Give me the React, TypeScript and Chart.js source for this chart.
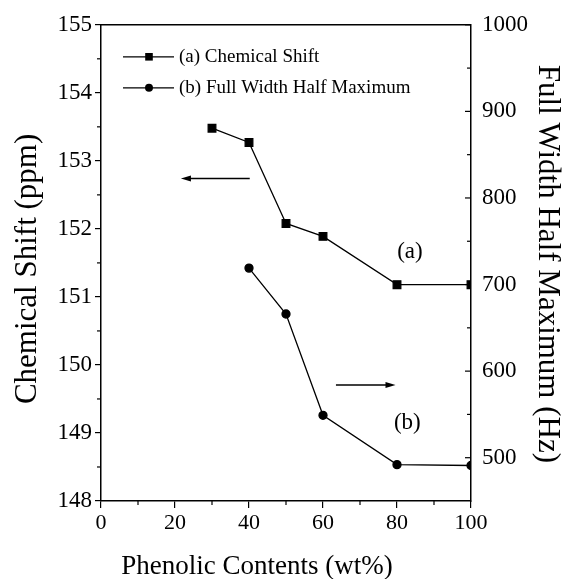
import React, { useEffect, useRef } from 'react';
import { Chart, registerables } from 'chart.js';

Chart.register(...registerables);

// ---- data ----
const PHENOLIC_CS = [30, 40, 50, 60, 80, 100];
const CHEMICAL_SHIFT = [153.48, 153.27, 152.08, 151.89, 151.18, 151.18];
const PHENOLIC_FWHM = [40, 50, 60, 80, 100];
const FWHM = [719, 666, 549, 492, 491];

const X_TICKS = [0, 20, 40, 60, 80, 100];
const X_MINOR = [10, 30, 50, 70, 90];
const LEFT_TICKS = [148, 149, 150, 151, 152, 153, 154, 155];
const LEFT_MINOR = [148.5, 149.5, 150.5, 151.5, 152.5, 153.5, 154.5];
const RIGHT_TICKS = [500, 600, 700, 800, 900, 1000];
const RIGHT_MINOR = [550, 650, 750, 850, 950];

const LEGEND_LABELS = ['(a) Chemical Shift', '(b) Full Width Half Maximum'];
const X_TITLE = 'Phenolic Contents (wt%)';
const LEFT_TITLE = 'Chemical Shift (ppm)';
const RIGHT_TITLE = 'Full Width Half Maximum (Hz)';
const CURVE_LABELS = ['(a)', '(b)'];
// annotation anchors in data coordinates: [x, y]
const LABEL_A_POS = [83.5, 151.66];
const LABEL_B_POS = [82.8, 540];
const ARROW_LEFT = [40.2, 21.6, 152.74]; // from x, to x, at chemical shift
const ARROW_RIGHT = [63.5, 79.6, 584]; // from x, to x, at FWHM

const FONT = "'Liberation Serif', 'Times New Roman', serif";
Chart.defaults.font.family = FONT;

const annotationPlugin = {
  id: 'annotations',
  afterDraw(chart: any) {
    const ctx = chart.ctx as CanvasRenderingContext2D;
    const { left, right, top, bottom } = chart.chartArea;
    const xs = chart.scales.x;
    const yl = chart.scales.y;
    const yr = chart.scales.y1;
    const line = (x1: number, y1: number, x2: number, y2: number) => {
      ctx.beginPath();
      ctx.moveTo(x1, y1);
      ctx.lineTo(x2, y2);
      ctx.stroke();
    };
    ctx.save();
    ctx.strokeStyle = '#000';
    ctx.fillStyle = '#000';
    ctx.lineWidth = 1.5;
    line(left, top, right, top);

    ctx.lineWidth = 1.2;
    X_MINOR.forEach((v) => {
      const px = xs.getPixelForValue(v);
      line(px, bottom, px, bottom + 4);
    });
    LEFT_MINOR.forEach((v) => {
      const py = yl.getPixelForValue(v);
      line(left - 4, py, left, py);
    });
    RIGHT_TICKS.forEach((v) => {
      const py = yr.getPixelForValue(v);
      line(right - 6, py, right, py);
    });
    RIGHT_MINOR.forEach((v) => {
      const py = yr.getPixelForValue(v);
      line(right - 4, py, right, py);
    });

    // arrows
    const arrow = (x1: number, x2: number, y: number) => {
      ctx.lineWidth = 1.4;
      const dir = Math.sign(x2 - x1);
      line(x1, y, x2 - dir * 6, y);
      ctx.beginPath();
      ctx.moveTo(x2, y);
      ctx.lineTo(x2 - dir * 10, y - 3);
      ctx.lineTo(x2 - dir * 10, y + 3);
      ctx.closePath();
      ctx.fill();
    };
    arrow(xs.getPixelForValue(ARROW_LEFT[0]), xs.getPixelForValue(ARROW_LEFT[1]), yl.getPixelForValue(ARROW_LEFT[2]));
    arrow(xs.getPixelForValue(ARROW_RIGHT[0]), xs.getPixelForValue(ARROW_RIGHT[1]), yr.getPixelForValue(ARROW_RIGHT[2]));

    // curve labels
    ctx.font = `23px ${FONT}`;
    ctx.textAlign = 'center';
    ctx.textBaseline = 'middle';
    ctx.fillText(CURVE_LABELS[0], xs.getPixelForValue(LABEL_A_POS[0]), yl.getPixelForValue(LABEL_A_POS[1]));
    ctx.fillText(CURVE_LABELS[1], xs.getPixelForValue(LABEL_B_POS[0]), yr.getPixelForValue(LABEL_B_POS[1]));

    // legend
    const legY = [top + 32, top + 63];
    const lx1 = left + 22;
    const lx2 = left + 73;
    const mx = left + 48;
    ctx.lineWidth = 1.3;
    legY.forEach((y, i) => {
      line(lx1, y, lx2, y);
      ctx.beginPath();
      if (i === 0) {
        ctx.rect(mx - 3.8, y - 3.8, 7.6, 7.6);
      } else {
        ctx.arc(mx, y, 4, 0, Math.PI * 2);
      }
      ctx.fill();
    });
    ctx.font = `19px ${FONT}`;
    ctx.textAlign = 'left';
    ctx.textBaseline = 'middle';
    legY.forEach((y, i) => ctx.fillText(LEGEND_LABELS[i], left + 78, y));

    // axis titles
    ctx.textAlign = 'center';
    ctx.textBaseline = 'alphabetic';
    ctx.font = `27px ${FONT}`;
    ctx.fillText(X_TITLE, 257, 574);

    ctx.font = `31px ${FONT}`;
    ctx.textBaseline = 'middle';
    ctx.save();
    ctx.translate(28, (top + bottom) / 2 + 6);
    ctx.rotate(-Math.PI / 2);
    ctx.fillText(LEFT_TITLE, 0, 0);
    ctx.restore();

    ctx.save();
    ctx.translate(547, (top + bottom) / 2 + 1);
    ctx.rotate(Math.PI / 2);
    ctx.fillText(RIGHT_TITLE, 0, 0);
    ctx.restore();

    ctx.restore();
  },
};

const plain = (v: any) => String(v);

export default function App() {
  const ref = useRef<HTMLCanvasElement | null>(null);
  useEffect(() => {
    if (!ref.current) return;
    const chart = new Chart(ref.current, {
      type: 'line',
      data: {
        datasets: [
          {
            label: LEGEND_LABELS[0],
            data: PHENOLIC_CS.map((x, i) => ({ x, y: CHEMICAL_SHIFT[i] })),
            yAxisID: 'y',
            borderColor: '#000',
            backgroundColor: '#000',
            borderWidth: 1.3,
            pointStyle: 'rect',
            pointRadius: 5.4,
            pointHoverRadius: 5.4,
            tension: 0,
            clip: 0,
          },
          {
            label: LEGEND_LABELS[1],
            data: PHENOLIC_FWHM.map((x, i) => ({ x, y: FWHM[i] })),
            yAxisID: 'y1',
            borderColor: '#000',
            backgroundColor: '#000',
            borderWidth: 1.3,
            pointStyle: 'circle',
            pointRadius: 4,
            pointHoverRadius: 4,
            tension: 0,
            clip: 0,
          },
        ],
      },
      options: {
        responsive: false,
        animation: false,
        events: [],
        layout: { padding: { top: 21, left: 0, right: 0, bottom: 0 } },
        plugins: { legend: { display: false }, tooltip: { enabled: false }, title: { display: false } },
        scales: {
          x: {
            type: 'linear',
            position: 'bottom',
            min: 0,
            max: 100,
            afterBuildTicks: (s: any) => {
              s.ticks = X_TICKS.map((v) => ({ value: v }));
            },
            afterFit: (s: any) => {
              s.height = 78;
            },
            grid: { display: true, drawOnChartArea: false, drawTicks: true, tickLength: 7, color: '#000', lineWidth: 1.2 },
            border: { display: true, color: '#000', width: 1.5 },
            ticks: { color: '#000', font: { family: FONT, size: 22 }, padding: 2, maxRotation: 0, autoSkip: false, callback: plain },
          },
          y: {
            type: 'linear',
            position: 'left',
            min: 148,
            max: 155,
            afterBuildTicks: (s: any) => {
              s.ticks = LEFT_TICKS.map((v) => ({ value: v }));
            },
            afterFit: (s: any) => {
              s.width = 101;
            },
            grid: { display: true, drawOnChartArea: false, drawTicks: true, tickLength: 6, color: '#000', lineWidth: 1.2 },
            border: { display: true, color: '#000', width: 1.5 },
            ticks: { color: '#000', font: { family: FONT, size: 23 }, padding: 3, autoSkip: false, callback: plain },
          },
          y1: {
            type: 'linear',
            position: 'right',
            min: 450,
            max: 1000,
            afterBuildTicks: (s: any) => {
              s.ticks = RIGHT_TICKS.map((v) => ({ value: v }));
            },
            afterFit: (s: any) => {
              s.width = 94;
            },
            grid: { display: false, drawOnChartArea: false, drawTicks: false },
            border: { display: true, color: '#000', width: 1.5 },
            ticks: { color: '#000', font: { family: FONT, size: 23 }, padding: 11, autoSkip: false, callback: plain },
          },
        },
      },
      plugins: [annotationPlugin],
    } as any);
    return () => chart.destroy();
  }, []);
  return (
    <div style={{ position: 'absolute', left: 0, top: 0, width: 565, height: 579, background: '#fff' }}>
      <canvas ref={ref} width={565} height={579} style={{ display: 'block' }} />
    </div>
  );
}
